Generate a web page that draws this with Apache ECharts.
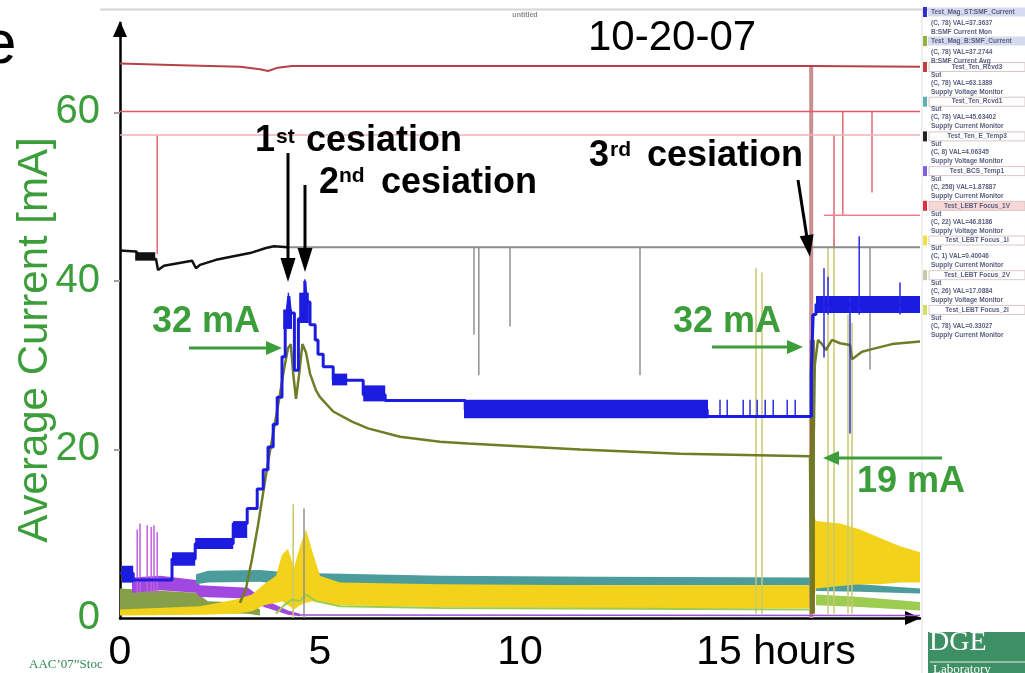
<!DOCTYPE html>
<html><head><meta charset="utf-8">
<script src="https://cdn.jsdelivr.net/npm/echarts@6/dist/echarts.min.js"></script>
<style>html,body{margin:0;padding:0;background:#fff;overflow:hidden}#c{width:1025px;height:673px}</style>
</head><body><div id="c"></div>
<script>
// ---------- data (hours, mA) ----------
const xTicks = [0, 5, 10, 15];
const yTicks = [0, 20, 40, 60];
const yMinorTicks = [20, 40, 60];

// beam current (blue step trace), [start hour, level]
const blueSteps = [[0,5.3],[0.33,4.5],[1.3,7.0],[1.88,8.8],[2.83,11.2],[3.18,13.0],[3.43,15.3],[3.58,17.6],[3.7,20.3],[3.83,23.0],[3.93,26.2],[4.05,31.0],[4.13,34.8],[4.18,36.5],[4.22,38.2],[4.26,36.2],[4.36,29.4],[4.46,35.5],[4.56,38.0],[4.62,40.0],[4.66,37.5],[4.75,34.8],[4.88,33.0],[4.95,31.3],[5.08,29.8],[5.33,28.2],[6.08,26.5],[6.63,25.8],[8.63,24.7],[14.68,23.9],[17.28,29.0],[17.33,36.0],[17.4,37.2],[20,37.2]];
// dithering blocks of the blue trace [x0, x1, y0, y1]
const blueBlocks = [[0.05,0.33,4.2,6.2],[1.3,1.88,6.2,7.8],[1.88,2.83,8.2,9.5],[2.83,3.18,9.5,11.5],[4.08,4.3,34.3,36.6],[4.48,4.72,35.0,38.6],[5.3,5.68,27.6,29.0],[6.08,6.63,25.7,27.6],[8.6,14.7,23.7,25.9],[17.4,20,36.2,38.2]];
// blue spikes [x, y0, y1]
const blueSpikes = [[4.21,36.5,38.6],[4.62,38,40.2],[15.0,23.9,25.9],[15.18,23.9,25.9],[15.58,23.9,25.9],[15.75,23.9,25.9],[15.93,23.9,25.9],[16.13,23.9,25.9],[16.33,23.9,25.9],[16.68,23.9,25.9],[16.88,23.9,25.9],[17.3,23.9,36],[17.6,30.9,41.5],[17.7,36,40.5],[18.25,21.9,38],[18.48,36,45.3],[19.5,36,39.8]];

// average current (olive trace)
const oliveLine = [[3.0,1.8],[3.15,3.5],[3.3,7],[3.45,11],[3.6,15.5],[3.72,19],[3.85,22.5],[3.98,26],[4.1,29.5],[4.2,32],[4.27,32.5],[4.33,29],[4.4,26],[4.48,29],[4.56,32.5],[4.65,31.5],[4.75,29],[4.9,27],[5.0,26.2],[5.33,24.5],[5.8,23.3],[6.2,22.5],[7.0,21.5],[8.0,20.9],[8.7,20.7],[9.5,20.5],[11.5,20.0],[14.0,19.5],[17.25,19.2],[17.28,0.8],[17.33,0.8],[17.37,30],[17.45,33],[17.55,32.5],[17.65,31.8],[17.8,33],[18.0,32.6],[18.25,32.4],[18.3,30.7],[18.55,31.6],[18.8,31.9],[19.3,32.5],[20,32.8]];
const oliveThick = [[17.31,0.5,33]];

// supply traces
const redTop = [[0,65.8],[1.5,65.6],[3.0,65.4],[3.5,65.1],[3.7,64.9],[3.95,65.3],[4.3,65.5],[17.3,65.5],[20,65.4]];
const redMid = [[0,60.1],[20,60.1]];
const redLow = [[0,57.3],[20,57.3]];
const red48 = [[17.6,47.8],[20,47.8]];
const redSpikes = [[0.93,43.2,57.3],[17.85,44,57.3],[18.07,47.8,60.1],[18.8,50.5,60.1]];
const cesThick = [[17.28,0,65.6]];

const blackLine = [[0,43.6],[0.4,43.5],[0.5,42.9],[0.9,42.6],[0.95,41.3],[1.1,41.8],[1.8,42.4],[1.9,41.5],[2.0,41.9],[2.4,42.5],[3.25,43.3],[3.65,43.9],[3.85,44.1],[4.2,44.0]];
const blackBlocks = [[0.38,0.88,42.4,43.4]];
const grayLine = [[4.2,44.0],[20,44.0]];
const grayDrops = [[8.85,33.6,44],[8.97,28.8,44],[9.75,34.6,44],[13.0,28.8,44],[18.75,29.5,44],[4.6,0,13]];

// noisy bands [x, low, high]
const tealBand1 = [[1.9,4.0,5.2],[2.2,4.2,5.6],[3.5,4.3,5.7],[4.0,4.0,5.5],[4.9,3.9,5.3],[8,3.9,5.0],[12,3.9,4.9],[17.25,3.9,4.8]];
const tealBand2 = [[17.4,3.2,4.3],[18.5,3.1,4.0],[20,2.9,3.5]];
const yellowBand1 = [[0,0.3,1.0],[2.0,0.4,1.4],[2.9,0.5,2.2],[3.3,0.8,2.8],[3.6,1.5,4.0],[3.9,1.8,5.0],[4.05,2.0,7.5],[4.2,1.5,8.2],[4.35,1.0,6.0],[4.5,1.5,8.5],[4.65,1.8,10.5],[4.8,2.0,8.0],[5.0,1.8,5.0],[5.5,1.5,4.2],[8,1.3,4.0],[12,1.2,3.9],[17.25,1.2,3.9]];
const yellowBand2 = [[17.3,0.5,13],[17.4,3.5,11.5],[18,3.8,11.2],[18.5,4.0,10.5],[19,4.0,9.5],[19.5,4.2,8.5],[20,4.2,7.8]];
const purpleBand = [[0.3,3.0,4.8],[1.0,3.3,5.0],[1.9,3.0,4.5],[2.0,2.5,3.9],[3.2,2.3,3.6],[3.6,1.3,2.2],[4.2,0.4,0.9],[4.5,0.2,0.5]];
const oliveBand = [[0,0.6,3.5],[1.9,0.6,3.0],[2.2,0.6,2.0],[3.2,0.5,1.8],[3.5,0.3,1.0]];
const lightGreenLine = [[3.9,0.5],[4.1,1.5],[4.3,2.2],[4.5,2.0],[4.65,2.8],[4.9,2.0],[5.5,1.4],[8,1.2],[17.25,1.0]];
const lightGreenBand2 = [[17.4,1.5,2.8],[18.5,1.3,2.5],[20,0.9,1.9]];
const purpleLine = [[4.5,0.35],[20,0.3]];
const magentaSpikes = [[0.43,3,10.5],[0.5,3,11.2],[0.68,3,11.0],[0.78,3,10.8],[0.85,3,11.0],[0.93,3,10.2]];
const yellowSpikes = [[4.33,0,13.5],[15.9,0.5,41.5],[16.05,0.5,41],[17.7,0.5,44],[17.85,0.5,45],[18.2,0.5,36],[18.3,0.5,35]];

// legend panel of the screenshot
const legendHeadNames = ['Test_Mag_ST:SMF_Current','Test_Mag_B:SMF_Current'];
const legendHeadVals = ['(C, 78) VAL=37.3637','(C, 78) VAL=37.2744'];
const legendHeadDescs = ['B:SMF Current Mon','B:SMF Current Avg'];
const legendHeadColors = ['#3030d0','#90b040'];
const legendNames = ['Test_Ten_Rcvd3','Test_Ten_Rcvd1','Test_Ten_E_Temp3','Test_BCS_Temp1','Test_LEBT Focus_1V','Test_LEBT Focus_1I','Test_LEBT Focus_2V','Test_LEBT Focus_2I'];
const legendVals = ['(C, 78) VAL=63.1389','(C, 78) VAL=45.63402','(C, 8) VAL=4.06345','(C, 258) VAL=1.87887','(C, 22) VAL=46.8186','(C, 1) VAL=0.40046','(C, 26) VAL=17.0884','(C, 78) VAL=0.33027'];
const legendDescs = ['Supply Voltage Monitor','Supply Current Monitor','Supply Voltage Monitor','Supply Current Monitor','Supply Voltage Monitor','Supply Current Monitor','Supply Voltage Monitor','Supply Current Monitor'];
const legendColors = ['#c04040','#60b0b0','#222222','#8060e0','#e03040','#f0e040','#c8c8a8','#d0e060'];

// ---------- helpers ----------
const GREEN = '#3c9e3a';
function lineS(data, color, width, z, step) {
  return {type:'line', data, symbol:'none', showSymbol:false, step: step || false,
    lineStyle:{color, width}, z: z || 3, silent:true, animation:false, clip:true};
}
function bandS(band, color, z) {
  return {type:'custom', silent:true, z: z || 2, clip:true, animation:false,
    data:[[band[0][0], band[0][1]]],
    renderItem:function(params, api){
      const pts = [];
      for (const p of band) pts.push(api.coord([p[0], p[2]]));
      for (let i = band.length - 1; i >= 0; i--) pts.push(api.coord([band[i][0], band[i][1]]));
      return {type:'polygon', shape:{points:pts}, style:{fill:color}};
    }};
}
function segS(segs, color, width, z) {
  return {type:'custom', silent:true, z: z || 3, clip:true, animation:false,
    data: segs, encode:{x:0, y:[1,2]},
    renderItem:function(params, api){
      const a = api.coord([api.value(0), api.value(1)]);
      const b = api.coord([api.value(0), api.value(2)]);
      return {type:'line', shape:{x1:a[0], y1:a[1], x2:b[0], y2:b[1]}, style:{stroke:color, lineWidth:width}};
    }};
}
function blockS(blocks, color, z) {
  return {type:'custom', silent:true, z: z || 4, clip:true, animation:false,
    data: blocks, encode:{x:[0,1], y:[2,3]},
    renderItem:function(params, api){
      const a = api.coord([api.value(0), api.value(3)]);
      const b = api.coord([api.value(1), api.value(2)]);
      return {type:'rect', shape:{x:a[0], y:a[1], width:b[0]-a[0], height:b[1]-a[1]}, style:{fill:color}};
    }};
}
function txt(x, y, text, font, color, align, extra) {
  return Object.assign({type:'text', x, y, z:100, silent:true,
    style:{text, font, fill:color, align: align || 'left', verticalAlign:'middle'}}, extra || {});
}
function arrow(x1, y1, x2, y2, color, lw, hl, hw) {
  const dx = x2 - x1, dy = y2 - y1, L = Math.hypot(dx, dy), ux = dx / L, uy = dy / L;
  const bx = x2 - ux * hl, by = y2 - uy * hl, px = -uy, py = ux;
  return [
    {type:'line', z:100, silent:true, shape:{x1, y1, x2:bx + ux, y2:by + uy}, style:{stroke:color, lineWidth:lw}},
    {type:'polygon', z:100, silent:true, shape:{points:[[x2,y2],[bx + px*hw/2, by + py*hw/2],[bx - px*hw/2, by - py*hw/2]]}, style:{fill:color}}
  ];
}

// ---------- graphic (slide texts, annotations, legend panel) ----------
const BOLD = 'bold 36px "Liberation Sans", Arial, sans-serif';
const SUP = 'bold 21px "Liberation Sans", Arial, sans-serif';
const g = [];
g.push({type:'line', z:1, silent:true, shape:{x1:100, y1:9.5, x2:1025, y2:9.5}, style:{stroke:'#d4d4d4', lineWidth:2}});
g.push(txt(525, 15, 'untitled', 'bold 7px "Liberation Sans", sans-serif', '#8a8a8a', 'center'));
g.push(txt(-18, 46, 'e', '62px "Liberation Sans", Arial, sans-serif', '#000'));
g.push(txt(588, 38, '10-20-07', '42px "Liberation Sans", Arial, sans-serif', '#000'));
g.push(txt(35, 340, 'Average Current [mA]', '42px "Liberation Sans", Arial, sans-serif', GREEN, 'center', {rotation: Math.PI/2}));
// cesiation labels
g.push(txt(255, 141, '1', BOLD, '#000'), txt(276, 137, 'st', SUP, '#000'), txt(306, 141, 'cesiation', BOLD, '#000'));
g.push(txt(319, 183, '2', BOLD, '#000'), txt(339, 176, 'nd', SUP, '#000'), txt(381, 183, 'cesiation', BOLD, '#000'));
g.push(txt(589, 156, '3', BOLD, '#000'), txt(610, 150, 'rd', SUP, '#000'), txt(647, 156, 'cesiation', BOLD, '#000'));
g.push(...arrow(288, 153, 288, 282, '#000', 3, 24, 15));
g.push(...arrow(305, 185, 305, 272, '#000', 3, 24, 15));
g.push(...arrow(798, 180, 810, 257, '#000', 3, 22, 14));
// current labels
g.push(txt(152, 322, '32 mA', BOLD, GREEN), txt(673, 322, '32 mA', BOLD, GREEN), txt(857, 482, '19 mA', BOLD, GREEN));
g.push(...arrow(189, 348, 282, 348, GREEN, 3, 16, 14));
g.push(...arrow(712, 347, 803, 347, GREEN, 3, 16, 14));
g.push(...arrow(942, 458, 823, 458, GREEN, 3, 16, 14));
// footer
g.push(txt(29, 665, 'AAC\u201907\u201dStoc', '13px "Liberation Serif", "DejaVu Serif", serif', '#2e8b57'));
g.push({type:'rect', z:90, silent:true, shape:{x:928, y:632, width:97, height:41}, style:{fill:'#3d8f64'}});
g.push(txt(929, 643, 'DGE', '28px "Liberation Serif", serif', '#fff'));
g.push({type:'line', z:100, silent:true, shape:{x1:930, y1:662, x2:1025, y2:662}, style:{stroke:'#e8f0ea', lineWidth:1}});
g.push(txt(933, 670, 'Laboratory', '13px "Liberation Serif", serif', '#fff'));
// legend panel
const LF = 'bold 6.5px "Liberation Sans", sans-serif', LC = '#5a6080';
g.push({type:'line', z:1, silent:true, shape:{x1:922, y1:10, x2:922, y2:673}, style:{stroke:'#e2e2e2', lineWidth:1}});
for (let i = 0; i < 2; i++) {
  const y0 = 12 + i * 29;
  g.push({type:'rect', z:95, silent:true, shape:{x:928, y:y0 - 4.5, width:97, height:9}, style:{fill:'#d6daee'}});
  g.push({type:'rect', z:96, silent:true, shape:{x:923, y:y0 - 5, width:4, height:10}, style:{fill:legendHeadColors[i]}});
  g.push(txt(931, y0, legendHeadNames[i], LF, LC));
  g.push(txt(931, y0 + 11, legendHeadVals[i], LF, LC));
  g.push(txt(931, y0 + 20, legendHeadDescs[i], LF, LC));
}
for (let i = 0; i < legendNames.length; i++) {
  const y0 = 67 + i * 34.7;
  g.push({type:'rect', z:95, silent:true, shape:{x:929, y:y0 - 4.5, width:96, height:9}, style:{fill: i === 4 ? '#f8d6d6' : '#fff', stroke:'#d8c8c8', lineWidth:1}});
  g.push({type:'rect', z:96, silent:true, shape:{x:923, y:y0 - 5, width:4, height:10}, style:{fill:legendColors[i]}});
  g.push(txt(977, y0, legendNames[i], LF, LC, 'center'));
  g.push(txt(931, y0 + 8, 'Sut', LF, LC));
  g.push(txt(931, y0 + 16, legendVals[i], LF, LC));
  g.push(txt(931, y0 + 25, legendDescs[i], LF, LC));
}

// ---------- chart ----------
const chart = echarts.init(document.getElementById('c'), null, {renderer:'canvas'});
chart.setOption({
  animation:false,
  backgroundColor:'#ffffff',
  grid:{left:120, right:105, top:23, bottom:50},
  xAxis:{type:'value', min:0, max:20, interval:5,
    axisLine:{show:true, onZero:false, symbol:['none','triangle'], symbolSize:[14,16], symbolOffset:[0,-7], lineStyle:{color:'#000', width:2.5}},
    axisTick:{show:false}, splitLine:{show:false},
    axisLabel:{customValues:xTicks, margin:14, color:'#000', fontSize:41, fontFamily:'"Liberation Sans", Arial, sans-serif',
      formatter:function(v){ return v === 15 ? '{h|15 hours}' : String(v); },
      rich:{h:{fontSize:41, fontFamily:'"Liberation Sans", Arial, sans-serif', color:'#000', padding:[0,0,0,112]}}}},
  yAxis:{type:'value', min:0, max:70.6, interval:20,
    axisLine:{show:true, onZero:false, symbol:['none','triangle'], symbolSize:[14,16], symbolOffset:[0,-6], lineStyle:{color:'#000', width:2.5}},
    axisTick:{show:true, customValues:yMinorTicks, length:6, lineStyle:{color:'#a0a0a0', width:2}},
    splitLine:{show:false},
    axisLabel:{customValues:yTicks, margin:20, color:GREEN, fontSize:40, fontFamily:'"Liberation Sans", Arial, sans-serif'}},
  series:[
    bandS(oliveBand, '#86a04a', 2),
    bandS(purpleBand, '#a048e0', 2),
    bandS(tealBand1, '#4c9c9c', 2),
    bandS(tealBand2, '#4c9c9c', 2),
    bandS(yellowBand1, '#f2d21a', 2),
    bandS(yellowBand2, '#f2d21a', 2),
    bandS(lightGreenBand2, '#9ccc50', 2),
    lineS(lightGreenLine, '#9ccc50', 2, 2),
    lineS(purpleLine, '#9a50d8', 1.5, 2),
    segS(magentaSpikes, '#c060e0', 1.5, 2),
    segS(cesThick, '#c89090', 4, 2),
    segS(yellowSpikes, '#c8c870', 1.5, 2),
    lineS(redTop, '#b8404a', 2, 3),
    lineS(redMid, '#e05a6a', 1.5, 3),
    lineS(redLow, '#f0b0b8', 1.5, 3),
    lineS(red48, '#f08090', 1.5, 3),
    segS(redSpikes, '#e06878', 1.5, 3),
    lineS(grayLine, '#8a8a8a', 2, 3),
    segS(grayDrops, '#909090', 1.5, 3),
    lineS(blackLine, '#111', 2.5, 3),
    blockS(blackBlocks, '#111', 3),
    lineS(oliveLine, '#6e7d26', 2.5, 4),
    segS(oliveThick, '#7d7020', 5, 4),
    blockS(blueBlocks, '#1c1ce0', 5),
    segS(blueSpikes, '#2a2ae6', 1.5, 5),
    lineS(blueSteps, '#1c1ce0', 3, 5, 'end')
  ],
  graphic:{elements:g}
});
</script>
</body></html>
